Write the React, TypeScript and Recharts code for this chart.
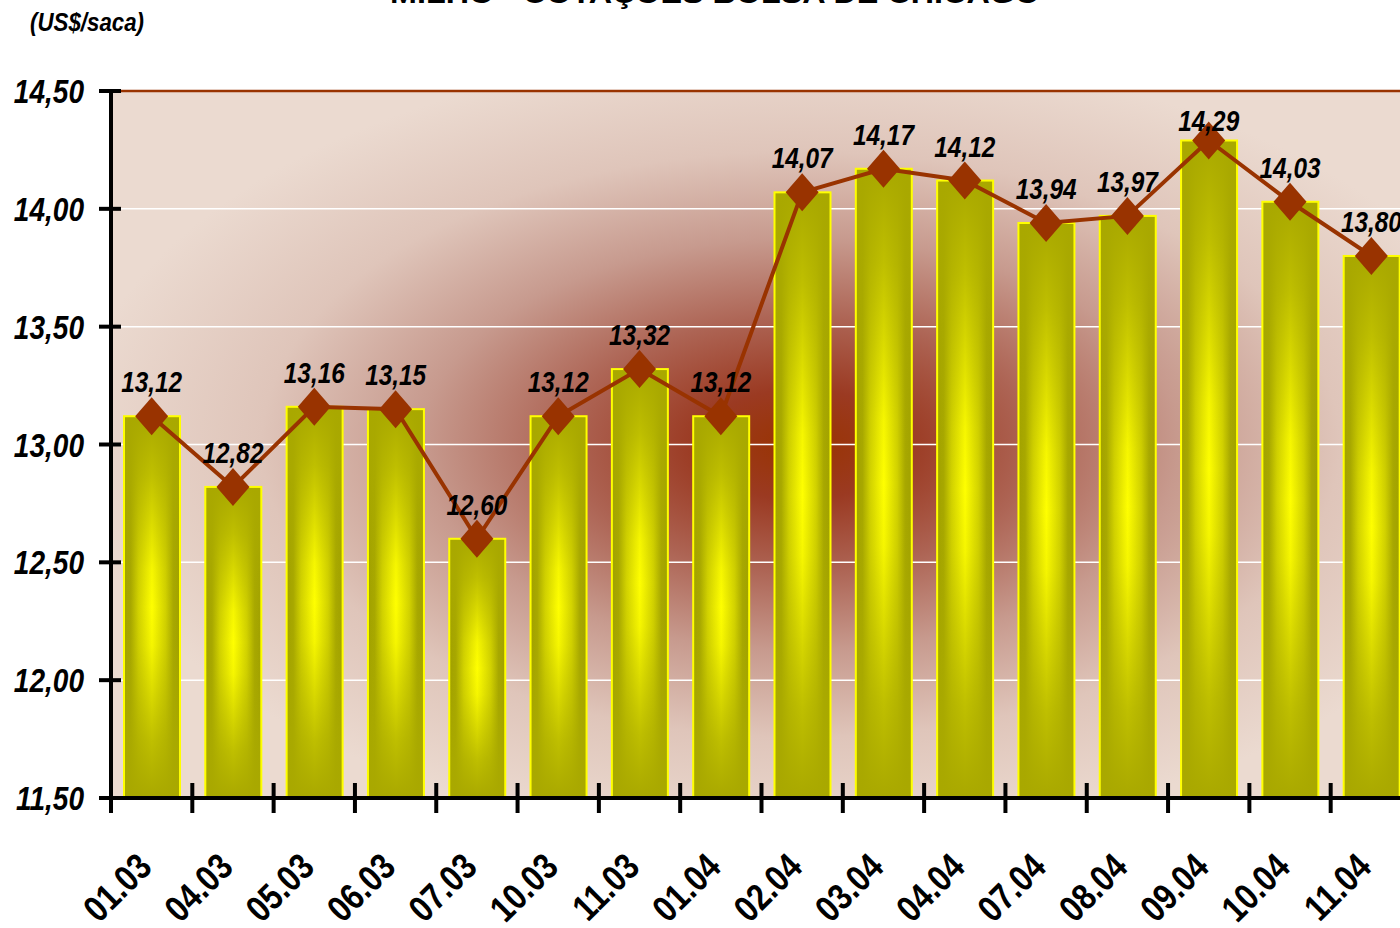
import React from 'react'
import {
  ComposedChart,
  Bar,
  Line,
  XAxis,
  YAxis,
  CartesianGrid,
  ReferenceLine,
  LabelList
} from 'recharts'

const categorias = [
  '01.03', '04.03', '05.03', '06.03', '07.03', '10.03', '11.03', '01.04',
  '02.04', '03.04', '04.04', '07.04', '08.04', '09.04', '10.04', '11.04'
]

const cotacoes = [
  13.12, 12.82, 13.16, 13.15, 12.6, 13.12, 13.32, 13.12,
  14.07, 14.17, 14.12, 13.94, 13.97, 14.29, 14.03, 13.8
]

const yTicks = [11.5, 12, 12.5, 13, 13.5, 14, 14.5]

const chartData = categorias.map((data, i) => ({ data, valor: cotacoes[i] }))

const CHART_W = 1440
const CHART_H = 928
const PLOT_TOP = 91
const PLOT_LEFT = 111
const PLOT_RIGHT = 1412
const PLOT_BOTTOM = 798
const BAND = (PLOT_RIGHT - PLOT_LEFT) / categorias.length

// Arial-metric font squeezed horizontally to mimic Arial Narrow
const FONT = "'Liberation Sans', Arial, sans-serif"
const NARROW = 0.84
const BROWN = '#993300'

const fmt = (v: number) => v.toFixed(2).replace('.', ',')

const BarShape = (props: any) => {
  const { x, y, width, height } = props
  if (!height || height <= 0) return null
  return (
    <g>
      <rect x={x} y={y} width={width} height={height} fill="url(#barH)" />
      <rect x={x} y={y} width={width} height={height} fill="url(#barV)" />
      <rect x={x} y={y} width={width} height={height} fill="none" stroke="#ffff00" strokeWidth={2} />
    </g>
  )
}

const Diamond = (props: any) => {
  const { cx, cy, index } = props
  if (cx == null || cy == null) return null
  return (
    <polygon
      key={`d-${index}`}
      points={`${cx},${cy - 19} ${cx + 16.5},${cy} ${cx},${cy + 19} ${cx - 16.5},${cy}`}
      fill={BROWN}
    />
  )
}

const ValueLabel = (props: any) => {
  const { x, y, value } = props
  // labels near the top edge are pushed down onto the marker, as in the original
  const base = Math.max(y - 24, PLOT_TOP + 40)
  return (
    <text
      transform={`translate(${x},${base}) scale(${NARROW},1)`}
      textAnchor="middle"
      fontFamily={FONT}
      fontWeight="bold"
      fontStyle="italic"
      fontSize={29}
      fill="#000"
    >
      {fmt(Number(value))}
    </text>
  )
}

const YTick = (props: any) => {
  const { y, payload } = props
  return (
    <g>
      <line x1={PLOT_LEFT - 12} x2={PLOT_LEFT + 10} y1={y} y2={y} stroke="#000" strokeWidth={4} />
      <text
        transform={`translate(${PLOT_LEFT - 27},${y + 12}) scale(0.85,1)`}
        textAnchor="end"
        fontFamily={FONT}
        fontWeight="bold"
        fontStyle="italic"
        fontSize={33}
        fill="#000"
      >
        {fmt(Number(payload.value))}
      </text>
    </g>
  )
}

const XTick = (props: any) => {
  const { x, payload } = props
  const bx = x - BAND / 2
  return (
    <g>
      <line x1={bx} x2={bx} y1={PLOT_BOTTOM - 15} y2={PLOT_BOTTOM + 15} stroke="#000" strokeWidth={4} />
      <text
        transform={`translate(${x + 2},${PLOT_BOTTOM + 71}) rotate(-45) scale(0.84,1)`}
        textAnchor="end"
        fontFamily={FONT}
        fontWeight="bold"
        fontSize={37}
        fill="#000"
      >
        {payload.value}
      </text>
    </g>
  )
}

export default function App() {
  return (
    <div
      style={{
        position: 'absolute',
        left: 0,
        top: 0,
        width: 1400,
        height: 928,
        overflow: 'hidden',
        background: '#fff'
      }}
    >
      <svg width={1400} height={60} style={{ position: 'absolute', left: 0, top: 0 }}>
        <text
          x={715}
          y={3}
          textAnchor="middle"
          fontFamily={FONT}
          fontWeight="bold"
          fontSize={30}
          textLength={650}
          lengthAdjust="spacingAndGlyphs"
          fill="#000"
        >
          MILHO - COTAÇÕES BOLSA DE CHICAGO
        </text>
        <text
          x={30}
          y={31}
          fontFamily={FONT}
          fontWeight="bold"
          fontStyle="italic"
          fontSize={26}
          textLength={114}
          lengthAdjust="spacingAndGlyphs"
          fill="#000"
        >
          (US$/saca)
        </text>
      </svg>
      <div style={{ position: 'absolute', left: 0, top: 0 }}>
        <ComposedChart
          width={CHART_W}
          height={CHART_H}
          data={chartData}
          margin={{ top: PLOT_TOP, right: CHART_W - PLOT_RIGHT, bottom: 30, left: 11 }}
        >
          <defs>
            <radialGradient id="bgGrad" cx="0.53" cy="0.5" r="0.56">
              <stop offset="0" stopColor="#993300" />
              <stop offset="0.14" stopColor="#9b3a22" />
              <stop offset="0.32" stopColor="#ad6454" />
              <stop offset="0.52" stopColor="#c79a8e" />
              <stop offset="0.74" stopColor="#dfc5ba" />
              <stop offset="1" stopColor="#ebdad0" />
            </radialGradient>
            <linearGradient id="barH" x1="0" y1="0" x2="1" y2="0">
              <stop offset="0" stopColor="#a0a000" />
              <stop offset="0.12" stopColor="#a8a800" />
              <stop offset="0.26" stopColor="#d2d200" />
              <stop offset="0.5" stopColor="#ffff00" />
              <stop offset="0.74" stopColor="#d2d200" />
              <stop offset="0.88" stopColor="#a8a800" />
              <stop offset="1" stopColor="#a0a000" />
            </linearGradient>
            <linearGradient id="barV" x1="0" y1="0" x2="0" y2="1">
              <stop offset="0" stopColor="#a9a800" stopOpacity={1} />
              <stop offset="0.15" stopColor="#aaaa00" stopOpacity={0.75} />
              <stop offset="0.4" stopColor="#aaaa00" stopOpacity={0.1} />
              <stop offset="0.5" stopColor="#aaaa00" stopOpacity={0} />
              <stop offset="0.6" stopColor="#aaaa00" stopOpacity={0.1} />
              <stop offset="0.85" stopColor="#aaaa00" stopOpacity={0.75} />
              <stop offset="1" stopColor="#a9a800" stopOpacity={1} />
            </linearGradient>
          </defs>
          <CartesianGrid
            vertical={false}
            stroke="#ffffff"
            strokeWidth={1.5}
            fill="url(#bgGrad)"
            fillOpacity={1}
          />
          <XAxis
            dataKey="data"
            height={100}
            interval={0}
            axisLine={{ stroke: '#000', strokeWidth: 4 }}
            tickLine={false}
            tick={<XTick />}
          />
          <YAxis
            width={100}
            domain={[11.5, 14.5]}
            ticks={yTicks}
            interval={0}
            axisLine={{ stroke: '#000', strokeWidth: 4 }}
            tickLine={false}
            tick={<YTick />}
          />
          <ReferenceLine y={14.5} stroke={BROWN} strokeWidth={2.5} />
          <Bar dataKey="valor" barSize={56} shape={<BarShape />} isAnimationActive={false} />
          <Line
            dataKey="valor"
            stroke={BROWN}
            strokeWidth={4}
            dot={Diamond}
            activeDot={false}
            isAnimationActive={false}
          >
            <LabelList dataKey="valor" content={<ValueLabel />} />
          </Line>
        </ComposedChart>
      </div>
    </div>
  )
}
